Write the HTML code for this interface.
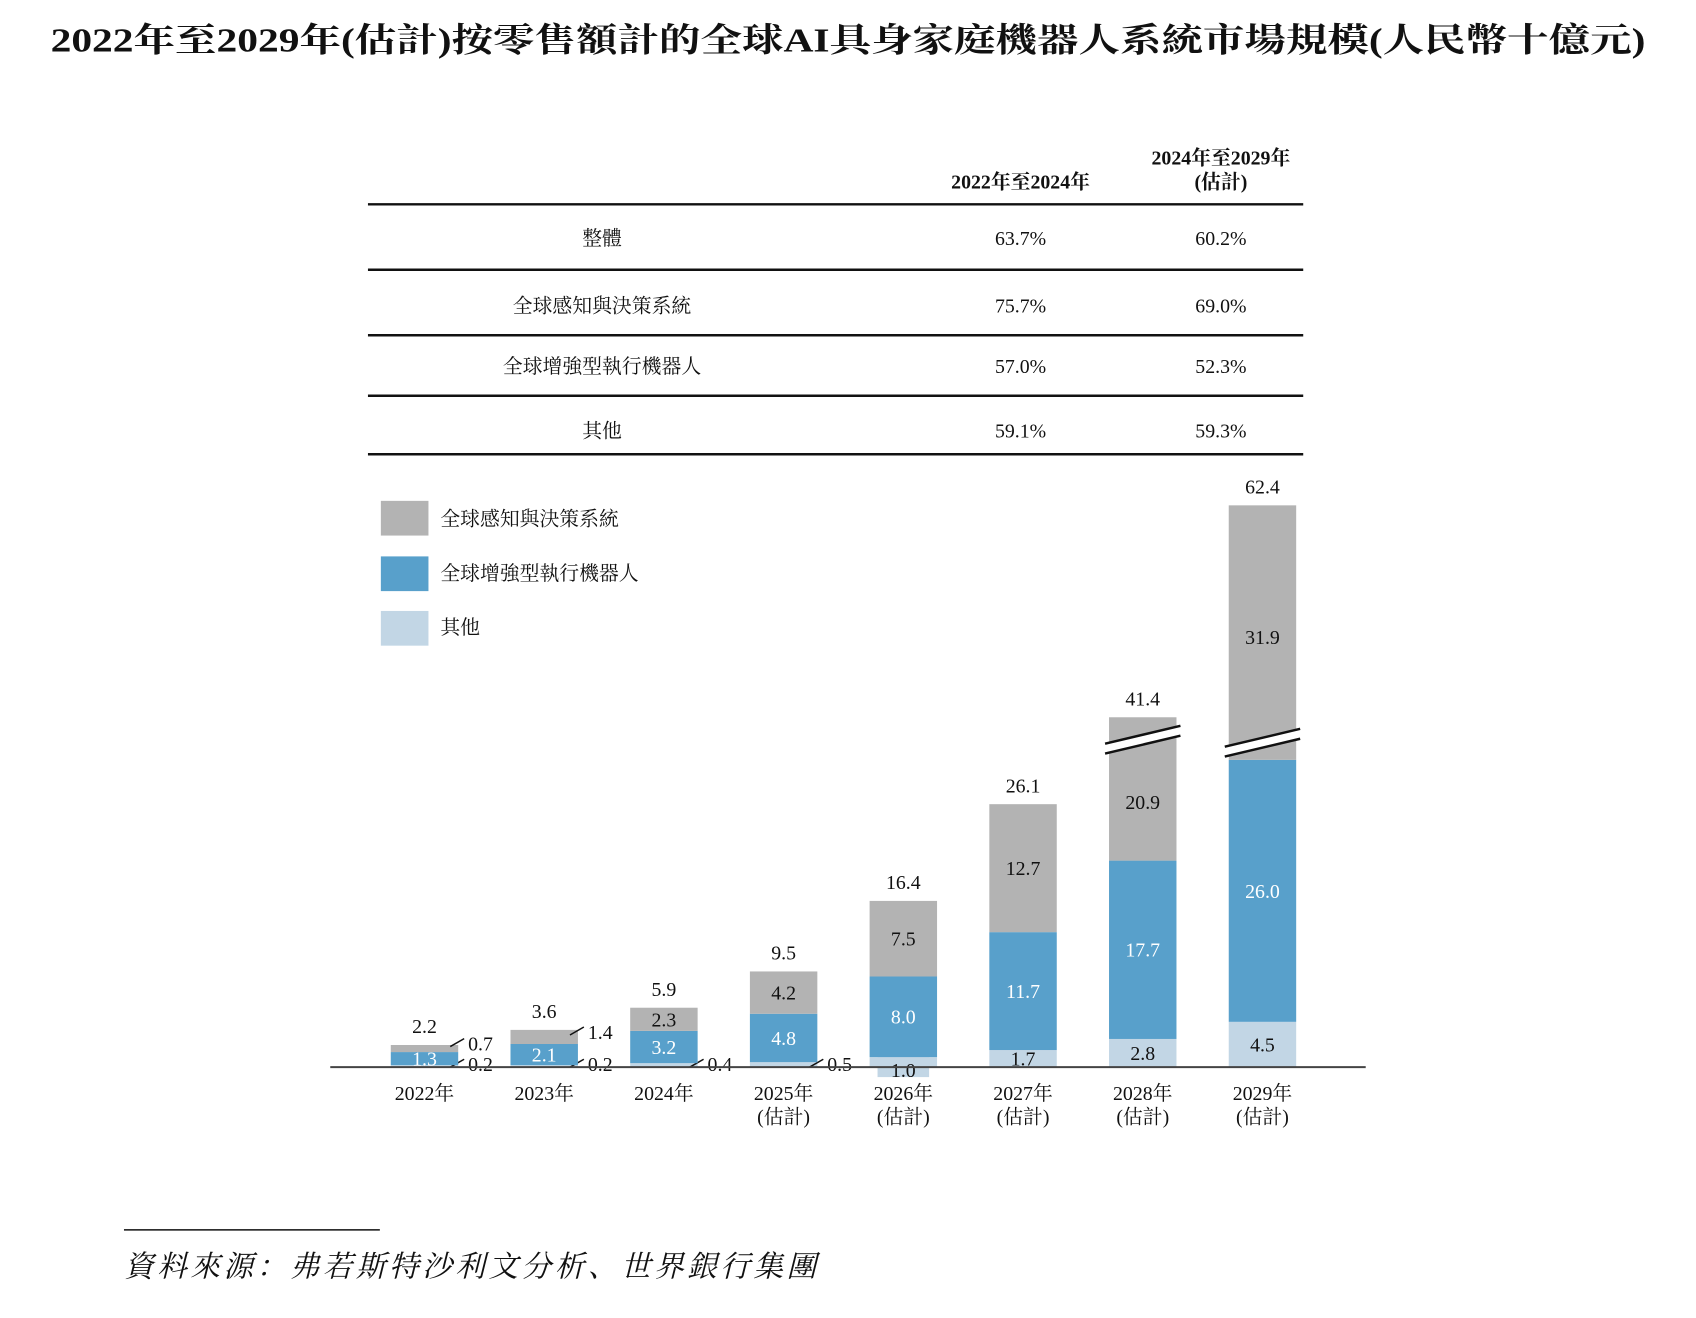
<!DOCTYPE html>
<html><head><meta charset="utf-8">
<style>
body{margin:0;background:#fff;}
svg{display:block;}
text{font-family:"Liberation Serif","Noto Serif CJK SC","Noto Sans CJK TC",serif;fill:#111;}
</style></head>
<body>
<svg id="chart" width="1696" height="1318" viewBox="0 0 1696 1318" xmlns="http://www.w3.org/2000/svg">
<g transform="scale(0.9918)">
<text x="855" y="52" text-anchor="middle" font-size="34" font-weight="bold" textLength="1608" lengthAdjust="spacingAndGlyphs">2022年至2029年(估計)按零售額計的全球AI具身家庭機器人系統市場規模(人民幣十億元)</text>
<g font-size="20">
<text x="1029" y="190" text-anchor="middle" font-weight="bold">2022年至2024年</text>
<text x="1231" y="166" text-anchor="middle" font-weight="bold">2024年至2029年</text>
<text x="1231" y="190" text-anchor="middle" font-weight="bold">(估計)</text>
<line x1="371" x2="1314" y1="206" y2="206" stroke="#111" stroke-width="2.5"/>
<line x1="371" x2="1314" y1="272" y2="272" stroke="#111" stroke-width="2.5"/>
<line x1="371" x2="1314" y1="338" y2="338" stroke="#111" stroke-width="2.5"/>
<line x1="371" x2="1314" y1="399" y2="399" stroke="#111" stroke-width="2.5"/>
<line x1="371" x2="1314" y1="458" y2="458" stroke="#111" stroke-width="2.5"/>
<g><text x="607" y="247" text-anchor="middle">整體</text><text x="1029" y="247" text-anchor="middle">63.7%</text><text x="1231" y="247" text-anchor="middle">60.2%</text></g>
<g><text x="607" y="315" text-anchor="middle">全球感知與決策系統</text><text x="1029" y="315" text-anchor="middle">75.7%</text><text x="1231" y="315" text-anchor="middle">69.0%</text></g>
<g><text x="607" y="376" text-anchor="middle">全球增強型執行機器人</text><text x="1029" y="376" text-anchor="middle">57.0%</text><text x="1231" y="376" text-anchor="middle">52.3%</text></g>
<g><text x="607" y="441" text-anchor="middle">其他</text><text x="1029" y="441" text-anchor="middle">59.1%</text><text x="1231" y="441" text-anchor="middle">59.3%</text></g>
</g>
<g font-size="20">
<rect x="384" y="505" width="48" height="35" fill="#b3b3b3"/>
<text x="444" y="530">全球感知與決策系統</text>
<rect x="384" y="561" width="48" height="35" fill="#58a0cb"/>
<text x="444" y="585">全球增強型執行機器人</text>
<rect x="384" y="616" width="48" height="35" fill="#c2d6e5"/>
<text x="444" y="639">其他</text>
</g>
<g id="bars"></g>
<line x1="333" x2="1377" y1="1076" y2="1076" stroke="#444" stroke-width="2"/>
<line x1="125" x2="383" y1="1240" y2="1240" stroke="#111" stroke-width="1.5"/>
<text x="125" y="1287" font-size="30" font-style="italic" textLength="698" lengthAdjust="spacing">資料來源：弗若斯特沙利文分析、世界銀行集團</text>
</g>
</svg>
<script>
const years = ["2022年","2023年","2024年","2025年","2026年","2027年","2028年","2029年"];
const estimated = [false,false,false,true,true,true,true,true];
const other = [0.2,0.2,0.4,0.5,1.0,1.7,2.8,4.5];
const execution = [1.3,2.1,3.2,4.8,8.0,11.7,17.7,26.0];
const perception = [0.7,1.4,2.3,4.2,7.5,12.7,20.9,31.9];
const totals = ["2.2","3.6","5.9","9.5","16.4","26.1","41.4","62.4"];
const breakAt = [null,null,null,null,null,null,32.5,32.2];
const breakCompress = [1,1,1,1,1,1,0.25,0.78];

const NS = "http://www.w3.org/2000/svg";
const g = document.getElementById('bars');
const base = 1076, unit = 10.16, x0 = 428, step = 120.7, bw = 68;
const xC = i => x0 + i*step;
function yOf(i, v){
  const b = breakAt[i];
  if (b === null || v <= b) return base - v*unit;
  return base - b*unit - (v-b)*unit*breakCompress[i];
}
function mk(tag, attrs){ const e=document.createElementNS(NS,tag); for(const k in attrs) e.setAttribute(k,attrs[k]); g.appendChild(e); return e; }
function txt(x,y,s,fill,anchor){ const t=mk('text',{x:x,y:y,'font-size':20,'text-anchor':anchor||'middle'}); if(fill) t.style.fill=fill; t.textContent=s; return t; }

years.forEach((yr,i)=>{
  const cx = xC(i), left = cx - bw/2;
  const segs = [[other[i],'#c2d6e5','other'],[execution[i],'#58a0cb','execution'],[perception[i],'#b3b3b3','perception']];
  let acc = 0;
  segs.forEach(([v,col,nm],k)=>{
    const y1 = yOf(i,acc), y2 = yOf(i,acc+v);
    const r = mk('rect',{x:left,y:y2,width:bw,height:y1-y2,fill:col});
    
    
    const small = (nm==='other' && i<4) || (nm==='perception' && i<2);
    if (small) {
      const ly = nm==='other' ? base-4 : (y1+y2)/2 - 6;
      mk('line',{x1:left+bw-8,y1:ly+4,x2:left+bw+6,y2:ly-4,stroke:'#111','stroke-width':1.5});
      txt(left+bw+10, ly+8, v.toFixed(1), '#111', 'start');
    } else if (nm==='other' && i===4) {
      mk('rect',{x:cx-26,y:base-14,width:52,height:24,fill:'#c2d6e5'});
      txt(cx, base+10, v.toFixed(1), '#111');
    } else {
      const my = nm==='other' ? y2 + (y1-y2)/2 + 7 : (nm==='perception' && breakAt[i]!==null ? (i===6? yOf(i,acc)-52 : yOf(i,acc+v)+140) : (y1+y2)/2 + 7);
      txt(cx, my, v.toFixed(1), nm==='execution' ? '#fff' : '#111');
    }
    acc += v;
  });
  if (breakAt[i] !== null) {
    const by = yOf(i, breakAt[i]);
    mk('polygon',{points:`${left-4},${by+4} ${left+bw+4},${by-14} ${left+bw+4},${by-4} ${left-4},${by+14}`,fill:'#fff'});
    mk('line',{x1:left-4,y1:by+4,x2:left+bw+4,y2:by-14,stroke:'#111','stroke-width':2.5});
    mk('line',{x1:left-4,y1:by+14,x2:left+bw+4,y2:by-4,stroke:'#111','stroke-width':2.5});
  }
  const tt = txt(cx, yOf(i,acc)-12, totals[i], '#111');
  
  
  const xl = txt(cx, 1109, yr, '#111');
  
  
  if (estimated[i]) txt(cx, 1133, '(估計)', '#111');
});
</script>
</body></html>
